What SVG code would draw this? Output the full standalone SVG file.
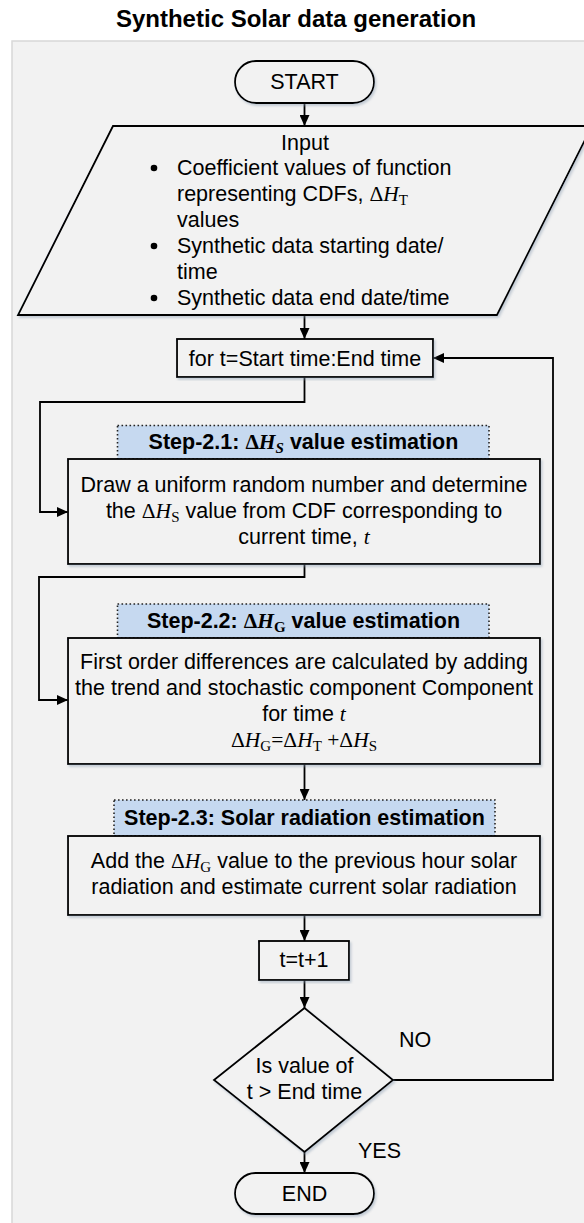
<svg xmlns="http://www.w3.org/2000/svg" width="584" height="1223" viewBox="0 0 584 1223">
<style>
.t{font-family:"Liberation Sans",Arial,sans-serif;font-size:21.5px;fill:#000}
.tb{font-family:"Liberation Sans",Arial,sans-serif;font-size:21.5px;font-weight:bold;fill:#000}
.m{font-family:"Liberation Serif","DejaVu Serif",serif}
.i{font-style:italic}
.s{font-size:15px}
.shape{fill:#f2f2f2;stroke:#000;stroke-width:1.8;filter:url(#sh)}
.lab{fill:#c6d9f0;stroke:#222;stroke-width:1.6;stroke-dasharray:1.6 2.4}
.c{fill:none;stroke:#000;stroke-width:1.8}
</style>
<defs>
<filter id="sh" x="-5%" y="-5%" width="110%" height="115%">
<feDropShadow dx="1.5" dy="2" stdDeviation="1.2" flood-color="#8a9bb0" flood-opacity="0.45"/>
</filter>
<marker id="ar" markerUnits="userSpaceOnUse" markerWidth="12" markerHeight="10" refX="11" refY="5" orient="auto">
<path d="M0,0 L11,5 L0,10 z" fill="#000"/>
</marker>
</defs>
<rect width="584" height="1223" fill="#fff"/>
<text x="296" y="27" text-anchor="middle" style="font-family:'Liberation Sans',Arial,sans-serif;font-size:24px;font-weight:bold">Synthetic Solar data generation</text>
<rect x="12" y="41" width="600" height="1200" fill="#f2f2f2" stroke="#d8d8d8" stroke-width="1.5"/>

<g id="connectors">
<line class="c" x1="304.5" y1="103" x2="304.5" y2="126" marker-end="url(#ar)"/>
<line class="c" x1="304.5" y1="315" x2="304.5" y2="339" marker-end="url(#ar)"/>
<polyline class="c" points="304.5,377 304.5,402 40,402 40,512 68,512" marker-end="url(#ar)"/>
<polyline class="c" points="304.5,564 304.5,577 39,577 39,700 68,700" marker-end="url(#ar)"/>
<line class="c" x1="304.5" y1="764" x2="304.5" y2="800" marker-end="url(#ar)"/>
<line class="c" x1="304.5" y1="915" x2="304.5" y2="941" marker-end="url(#ar)"/>
<line class="c" x1="304.5" y1="980" x2="304.5" y2="1008" marker-end="url(#ar)"/>
<line class="c" x1="304.5" y1="1152" x2="304.5" y2="1173" marker-end="url(#ar)"/>
<polyline class="c" points="393,1080 553,1080 553,358 433,358" marker-end="url(#ar)"/>
<text class="t" x="399" y="1047">NO</text>
<text class="t" x="358" y="1158">YES</text>
</g>

<g id="start">
<rect class="shape" x="235" y="61" width="139" height="42" rx="21"/>
<text class="t" x="304.5" y="89" text-anchor="middle">START</text>
</g>

<g id="input">
<polygon class="shape" points="113,126 592,126 497,315 18,315"/>
<text class="t" x="305" y="150" text-anchor="middle">Input</text>
<circle cx="154" cy="168" r="3.3"/>
<circle cx="154" cy="246" r="3.3"/>
<circle cx="154" cy="298" r="3.3"/>
<text class="t" x="177" y="175">Coefficient values of function</text>
<text class="t" x="177" y="201">representing CDFs, <tspan class="m">Δ</tspan><tspan class="m i">H</tspan><tspan class="m s" dy="4">T</tspan></text>
<text class="t" x="177" y="227">values</text>
<text class="t" x="177" y="253">Synthetic data starting date/</text>
<text class="t" x="177" y="279">time</text>
<text class="t" x="177" y="305">Synthetic data end date/time</text>
</g>

<g id="loop">
<rect class="shape" x="177" y="339" width="256" height="38"/>
<text class="t" x="305" y="366" text-anchor="middle">for t=Start time:End time</text>
</g>

<g id="step21">
<rect class="lab" x="117.5" y="425.5" width="371.5" height="33.5"/>
<text class="tb" x="303.5" y="449" text-anchor="middle">Step-2.1: <tspan class="m">Δ</tspan><tspan class="m i">H</tspan><tspan class="m s i" dy="4">S</tspan><tspan dy="-4"> value estimation</tspan></text>
<rect class="shape" x="68" y="459" width="472" height="105"/>
<text class="t" x="304" y="492" text-anchor="middle">Draw a uniform random number and determine</text>
<text class="t" x="304" y="518" text-anchor="middle">the <tspan class="m">Δ</tspan><tspan class="m i">H</tspan><tspan class="m s" dy="4">S</tspan><tspan dy="-4"> value from CDF corresponding to</tspan></text>
<text class="t" x="304" y="544" text-anchor="middle">current time, <tspan class="m i">t</tspan></text>
</g>

<g id="step22">
<rect class="lab" x="117.5" y="604" width="371.5" height="34"/>
<text class="tb" x="303.5" y="628" text-anchor="middle">Step-2.2: <tspan class="m">Δ</tspan><tspan class="m i">H</tspan><tspan class="m s" dy="4">G</tspan><tspan dy="-4"> value estimation</tspan></text>
<rect class="shape" x="68" y="638" width="472" height="126"/>
<text class="t" x="304" y="669" text-anchor="middle">First order differences are calculated by adding</text>
<text class="t" x="304" y="695" text-anchor="middle">the trend and stochastic component Component</text>
<text class="t" x="304" y="721" text-anchor="middle">for time <tspan class="m i">t</tspan></text>
<text class="t m" x="304" y="747" text-anchor="middle">Δ<tspan class="i">H</tspan><tspan class="s" dy="4">G</tspan><tspan dy="-4">=Δ</tspan><tspan class="i">H</tspan><tspan class="s" dy="4">T</tspan><tspan dy="-4"> +Δ</tspan><tspan class="i">H</tspan><tspan class="s" dy="4">S</tspan></text>
</g>

<g id="step23">
<rect class="lab" x="114" y="800" width="381" height="36"/>
<text class="tb" x="304.5" y="825" text-anchor="middle">Step-2.3: Solar radiation estimation</text>
<rect class="shape" x="68" y="836" width="472" height="79"/>
<text class="t" x="304" y="868" text-anchor="middle">Add the <tspan class="m">Δ</tspan><tspan class="m i">H</tspan><tspan class="m s" dy="4">G</tspan><tspan dy="-4"> value to the previous hour solar</tspan></text>
<text class="t" x="304" y="894" text-anchor="middle">radiation and estimate current solar radiation</text>
</g>

<g id="increment">
<rect class="shape" x="259" y="941" width="90" height="39"/>
<text class="t" x="304" y="967" text-anchor="middle">t=t+1</text>
</g>

<g id="decision">
<polygon class="shape" points="304.5,1008 393,1080 304.5,1152 214,1080"/>
<text class="t" x="304.5" y="1073" text-anchor="middle">Is value of</text>
<text class="t" x="304.5" y="1099" text-anchor="middle">t &gt; End time</text>
</g>

<g id="end">
<rect class="shape" x="235" y="1173" width="139" height="41" rx="20.5"/>
<text class="t" x="304.5" y="1201" text-anchor="middle">END</text>
</g>
</svg>
